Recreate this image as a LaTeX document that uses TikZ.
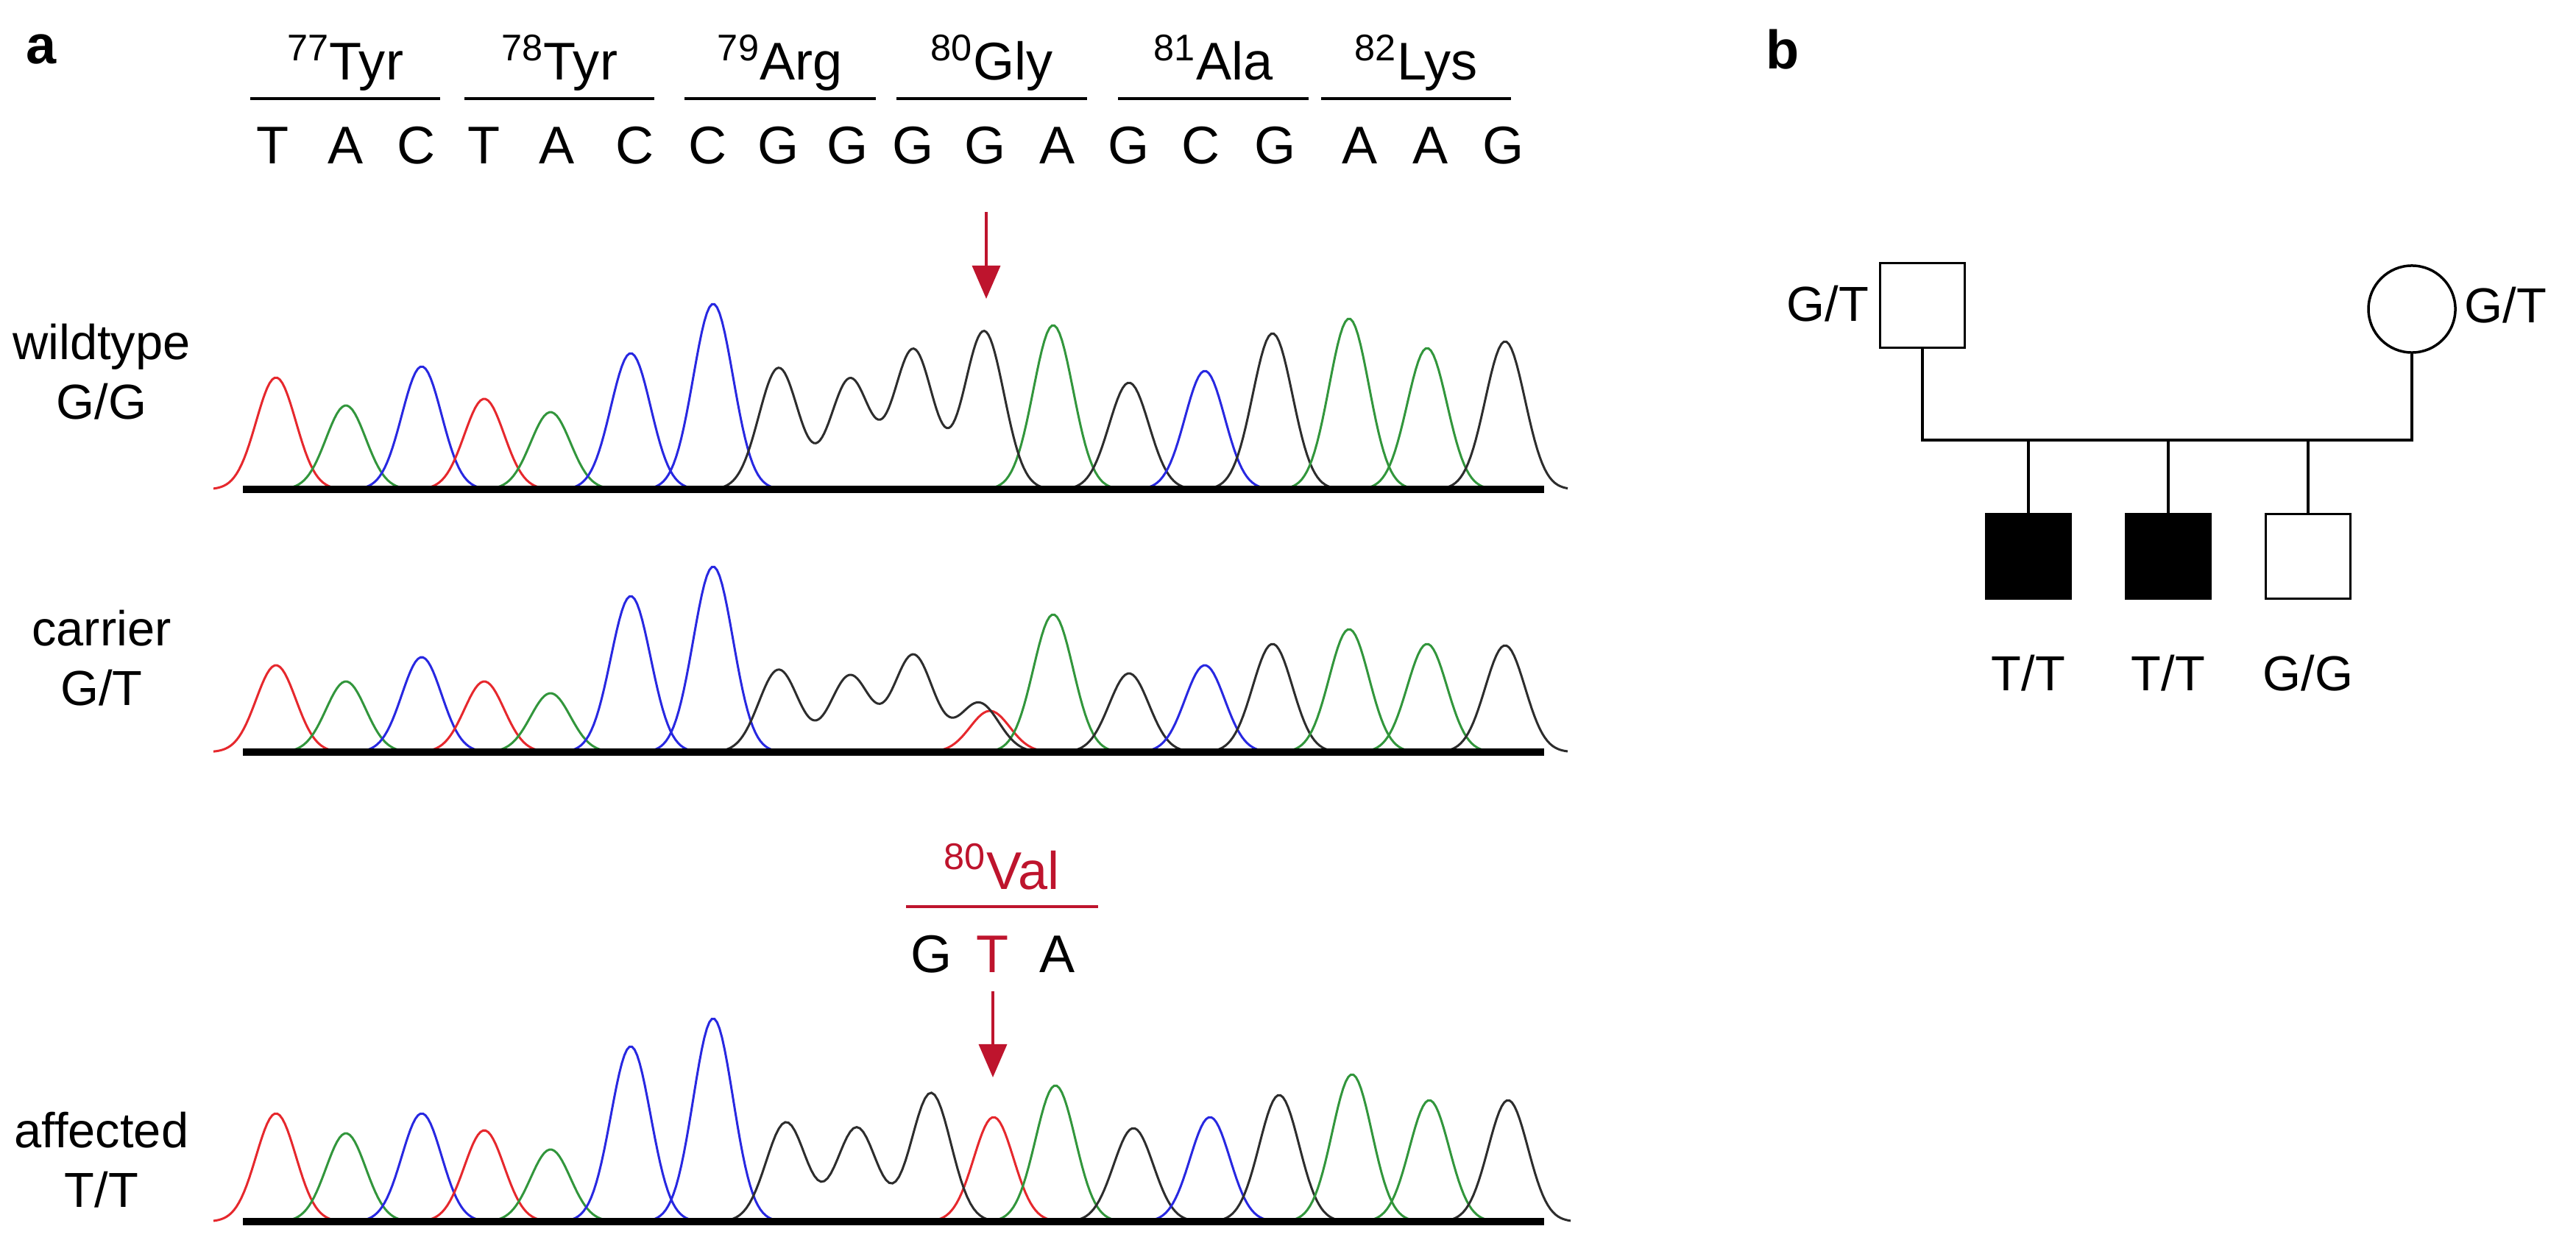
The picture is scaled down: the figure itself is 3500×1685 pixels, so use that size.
\documentclass[tikz,border=0pt]{standalone}
\usepackage{fontspec}
\setmainfont{Liberation Sans}
\usetikzlibrary{arrows.meta}
\definecolor{tr}{RGB}{230,40,45}
\definecolor{tg}{RGB}{50,150,60}
\definecolor{tb}{RGB}{40,40,225}
\definecolor{tk}{RGB}{45,45,45}
\definecolor{ar}{RGB}{190,20,45}
\begin{document}
\begin{tikzpicture}[x=0.01cm,y=-0.01cm,
  trace/.style={line width=0.03cm},
  base/.style={line width=0.1cm,black},
  big/.style={font=\fontsize{20.5}{24}\selectfont,inner sep=0pt},
  lab/.style={font=\fontsize{19}{23}\selectfont,inner sep=0pt,align=center},
  codon/.style={line width=0.035cm},
  redarrow/.style={ar,line width=0.035cm,-{Triangle[length=0.45cm,width=0.38cm]}},
  ped/.style={draw,line width=0.035cm,minimum size=1.15cm,inner sep=0pt},
  pedline/.style={line width=0.035cm}]
\useasboundingbox (0,0) rectangle (3500,1685);
\fill[white] (0,0) rectangle (3500,1685);
\newcommand{\pk}[4]{\draw[#1,trace,domain=#2-85:#2+85,samples=50] plot (\x,{#4-(#4-#3)*exp(-((\x-#2)/27)^2/2)});}
% black group of four: \bgrp{base}{c1}{t1}{c2}{t2}{c3}{t3}{c4}{t4}
\newcommand{\bgrp}[9]{\draw[tk,trace,domain=#2-85:#8+85,samples=160] plot (\x,{#1-(#1-#3)*exp(-((\x-#2)/27)^2/2)-(#1-#5)*exp(-((\x-#4)/27)^2/2)-(#1-#7)*exp(-((\x-#6)/27)^2/2)-(#1-#9)*exp(-((\x-#8)/27)^2/2)});}
% panel labels
\node[big,font=\fontsize{21}{24}\selectfont\bfseries] (pa) at (56,67) {a};
\node[big,font=\fontsize{21}{24}\selectfont\bfseries] (pb) at (2422,67) {b};
% amino acids
\foreach \n/\l/\r/\aa in {77/340/598/Tyr,78/631/889/Tyr,79/930/1190/Arg,80/1218/1477/Gly,81/1519/1778/Ala,82/1795/2053/Lys}{
  \node[big,anchor=base] (aa\n) at ({(\l+\r)/2},109) {\textsuperscript{\n}\aa};
  \draw[codon] (\l,134) -- (\r,134);
}
% sequence
\foreach \i/\x/\b in {1/371/T,2/470/A,3/566/C,4/658/T,5/757/A,6/863/C,7/962/C,8/1058/G,9/1152/G,10/1241/G,11/1339/G,12/1437/A,13/1534/G,14/1632/C,15/1733/G,16/1848/A,17/1944/A,18/2043/G}{
  \node[big,anchor=base] (s\i) at (\x,222) {\b};
}
% row labels
\node[lab] (l1) at (138,505) {wildtype\\G/G};
\node[lab] (l2) at (138,894) {carrier\\G/T};
\node[lab] (l3) at (138,1576) {affected\\T/T};
% row 1
\foreach \col/\c/\t in {tr/375/513,tg/470/551,tb/573/498,tr/658/542,tg/748/560,tb/857/480,tb/969/413,tg/1431/442,tk/1534/520,tb/1637/504,tk/1729/453,tg/1833/433,tg/1939/473,tk/2045/464}{\pk{\col}{\c}{\t}{665}}
\bgrp{665}{1058}{500}{1155}{515}{1241}{475}{1337}{450}
\draw[base] (330,665) -- (2098,665);
\coordinate (a1s) at (1340,288); \coordinate (a1e) at (1340,406);
\draw[redarrow] (a1s) -- (a1e);
% row 2
\foreach \col/\c/\t in {tr/375/904,tg/470/926,tb/573/893,tr/658/926,tg/748/942,tb/857/810,tb/969/770,tr/1345/966,tg/1431/835,tk/1534/915,tb/1637/904,tk/1729/875,tg/1833/855,tg/1939/875,tk/2045/877}{\pk{\col}{\c}{\t}{1022}}
\bgrp{1022}{1058}{910}{1155}{918}{1241}{890}{1330}{955}
\draw[base] (330,1022) -- (2098,1022);
% row 3
\foreach \col/\c/\t in {tr/375/1513,tg/470/1540,tb/573/1513,tr/658/1536,tg/748/1562,tb/857/1422,tb/969/1384,tr/1350/1518,tg/1434/1475,tk/1540/1533,tb/1644/1518,tk/1738/1488,tg/1837/1460,tg/1942/1495,tk/2049/1495}{\pk{\col}{\c}{\t}{1660}}
\bgrp{1660}{1068}{1525}{1164}{1532}{1265}{1485}{1600}{1660}
\draw[base] (330,1660) -- (2098,1660);
\node[big,ar,anchor=base] (val) at (1361,1208) {\textsuperscript{80}Val};
\draw[ar,codon] (1231,1232) -- (1492,1232);
\node[big,anchor=base] (g3) at (1266,1321) {G};
\node[big,anchor=base,ar] (t3) at (1349,1321) {T};
\node[big,anchor=base] (a3) at (1437,1321) {A};
\coordinate (a2e) at (1349,1464);
\draw[redarrow] ([yshift=-0.25cm]t3.south) -- (a2e);
% pedigree
\node[ped] (f) at (2612,415) {};
\node[ped,circle,minimum size=1.18cm] (m) at (3277,420) {};
\node[lab,anchor=east] (fl) at (2540,413) {G/T};
\node[lab,anchor=west] (ml) at (3348,415) {G/T};
\node[ped,fill=black] (c1) at (2756,756) {};
\node[ped,fill=black] (c2) at (2946,756) {};
\node[ped] (c3) at (3136,756) {};
\node[lab] (c1l) at (2756,915) {T/T};
\node[lab] (c2l) at (2946,915) {T/T};
\node[lab] (c3l) at (3136,915) {G/G};
\draw[pedline] (f.south) -- (f.south |- 0,598) -- (m.south |- 0,598) -- (m.south);
\foreach \c in {c1,c2,c3}{\draw[pedline] (\c.north) -- (\c.north |- 0,598);}
\end{tikzpicture}
\end{document}
